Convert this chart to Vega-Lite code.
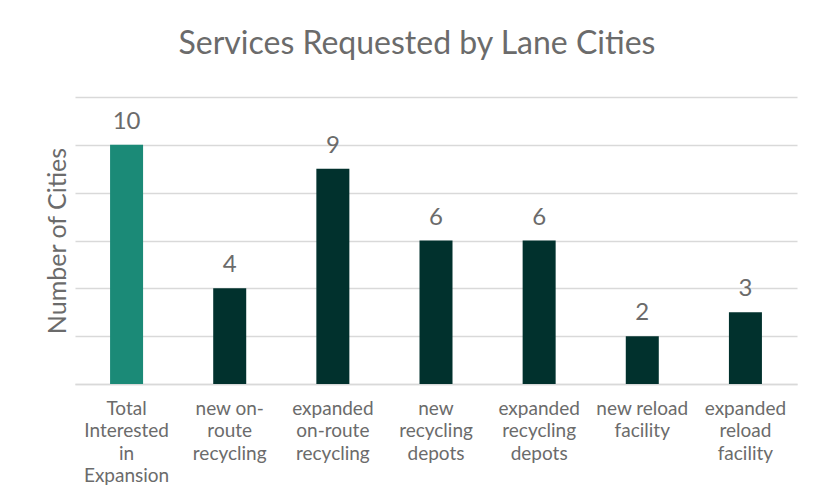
{
  "$schema": "https://vega.github.io/schema/vega-lite/v6.json",
  "width": 722,
  "height": 287,
  "autosize": {"type": "none"},
  "padding": {"left": 75, "top": 97, "right": 28, "bottom": 118},
  "background": "white",
  "title": {
    "text": "Services Requested by Lane Cities",
    "font": "Lato",
    "fontSize": 32,
    "fontWeight": "normal",
    "color": "#6b6b6b",
    "anchor": "middle",
    "dx": -19,
    "offset": 36
  },
  "config": {"view": {"stroke": null}},
  "data": {
    "values": [
      {"service": "Total|Interested|in|Expansion", "cities": 10, "group": "total"},
      {"service": "new on-|route|recycling", "cities": 4, "group": "service"},
      {"service": "expanded|on-route|recycling", "cities": 9, "group": "service"},
      {"service": "new|recycling|depots", "cities": 6, "group": "service"},
      {"service": "expanded|recycling|depots", "cities": 6, "group": "service"},
      {"service": "new reload|facility", "cities": 2, "group": "service"},
      {"service": "expanded|reload|facility", "cities": 3, "group": "service"}
    ]
  },
  "encoding": {
    "x": {
      "field": "service",
      "type": "nominal",
      "sort": null,
      "scale": {"paddingInner": 0.68, "paddingOuter": 0.34},
      "axis": {
        "title": null,
        "labelAngle": 0,
        "labelExpr": "split(datum.label, '|')",
        "labelFont": "Lato",
        "labelFontSize": 19,
        "labelFontWeight": "normal",
        "labelColor": "#6b6b6b",
        "labelLineHeight": 22.5,
        "labelPadding": 15,
        "ticks": false,
        "domainColor": "#d9d9d9",
        "domainWidth": 1.5,
        "labelLimit": 200
      }
    },
    "y": {
      "field": "cities",
      "type": "quantitative",
      "scale": {"domain": [0, 12], "nice": false},
      "axis": {
        "title": "Number of Cities",
        "titleFont": "Lato",
        "titleFontSize": 25,
        "titleFontWeight": "normal",
        "titleColor": "#6b6b6b",
        "titlePadding": 5,
        "labels": false,
        "ticks": false,
        "domain": false,
        "values": [0, 2, 4, 6, 8, 10, 12],
        "gridColor": "#d9d9d9",
        "gridWidth": 1.5
      }
    }
  },
  "layer": [
    {
      "mark": {"type": "bar"},
      "encoding": {
        "color": {
          "field": "group",
          "type": "nominal",
          "scale": {"domain": ["total", "service"], "range": ["#1b8a77", "#01312d"]},
          "legend": null
        }
      }
    },
    {
      "mark": {
        "type": "text",
        "baseline": "bottom",
        "dy": -11,
        "font": "Lato",
        "fontSize": 24,
        "fontWeight": "normal",
        "color": "#6b6b6b"
      },
      "encoding": {"text": {"field": "cities", "type": "quantitative"}}
    }
  ]
}
